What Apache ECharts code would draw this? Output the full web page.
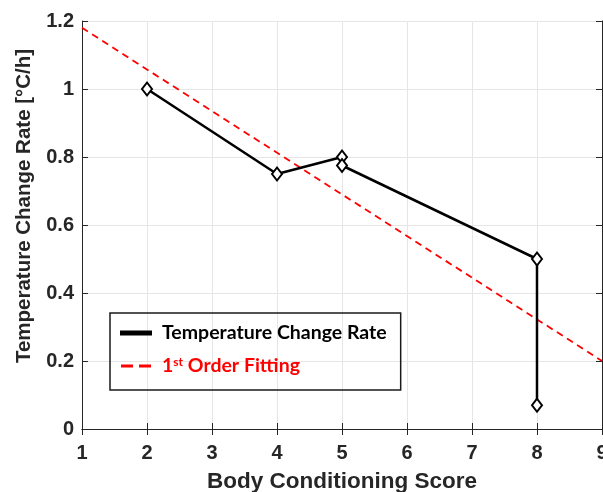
<!DOCTYPE html>
<html><head><meta charset="utf-8">
<script src="https://cdn.jsdelivr.net/npm/echarts@6/dist/echarts.min.js"></script>
<style>html,body{margin:0;padding:0;background:#fff}#c{width:603px;height:492px}</style>
</head><body><div id="c"></div>
<script>
const scoreX = [2, 4, 5, 5, 8, 8];
const rateY = [1.0, 0.75, 0.80, 0.775, 0.50, 0.07];
const fitX = [1, 9];
const fitY = [1.18, 0.20];
const xTicks = [1, 2, 3, 4, 5, 6, 7, 8, 9];
const yTicks = [0, 0.2, 0.4, 0.6, 0.8, 1, 1.2];
const seriesNames = ['Temperature Change Rate', '1st Order Fitting'];
const xName = 'Body Conditioning Score';
const yName = 'Temperature Change Rate [°C/h]';

const tickFont = {fontFamily: 'Liberation Sans, Arial', fontWeight: 'bold', fontSize: 20, color: '#262626'};
const chart = echarts.init(document.getElementById('c'));
const axisLine = {show: true, lineStyle: {color: '#262626', width: 1}};
const split = {show: true, lineStyle: {color: '#e6e6e6', width: 1}};
const lf = 'Lato, Open Sans';
chart.setOption({
  animation: false,
  grid: {left: 82, top: 21, right: 1, bottom: 63, show: false, containLabel: false, outerBoundsMode: 'none'},
  xAxis: [{
    type: 'value', min: xTicks[0], max: xTicks[xTicks.length-1], interval: 1,
    name: xName, nameLocation: 'middle', nameGap: 41,
    nameTextStyle: {fontFamily: 'Liberation Sans, Arial', fontWeight: 'bold', fontSize: 22.5, color: '#262626'},
    axisLine: axisLine, axisTick: {show: true, inside: true, length: 6, lineStyle: {color: '#262626'}},
    axisLabel: Object.assign({margin: 14}, tickFont), splitLine: split
  }, {
    type: 'value', position: 'top', min: xTicks[0], max: xTicks[xTicks.length-1], interval: 1,
    axisLine: axisLine, axisTick: {show: true, inside: true, length: 6, lineStyle: {color: '#262626'}},
    axisLabel: {show: false}, splitLine: {show: false}
  }],
  yAxis: [{
    type: 'value', min: yTicks[0], max: yTicks[yTicks.length-1], interval: 0.2,
    name: yName, nameLocation: 'middle', nameGap: 47, nameRotate: 90,
    nameTextStyle: {fontFamily: 'Liberation Sans, Arial', fontWeight: 'bold', fontSize: 20.5, color: '#262626', padding: [0, 0, 0, 38]},
    axisLine: axisLine, axisTick: {show: true, inside: true, length: 6, lineStyle: {color: '#262626'}},
    axisLabel: Object.assign({margin: 8, formatter: v => String(+v.toFixed(1))}, tickFont), splitLine: split
  }, {
    type: 'value', position: 'right', min: yTicks[0], max: yTicks[yTicks.length-1], interval: 0.2,
    axisLine: axisLine, axisTick: {show: true, inside: true, length: 6, lineStyle: {color: '#262626'}},
    axisLabel: {show: false}, splitLine: {show: false}
  }],
  legend: {
    left: 110, top: 313, orient: 'vertical',
    borderColor: '#1a1a1a', borderWidth: 1.5, borderRadius: 0,
    padding: [10, 14, 14, 10], itemGap: 13, itemWidth: 30, itemHeight: 3,
    textStyle: {fontFamily: lf, fontWeight: 'bold', fontSize: 19.5, color: '#000', padding: [0, 0, 0, 6],
      rich: {
        b: {fontFamily: lf, fontWeight: 'bold', fontSize: 19.5, color: '#ff0000'},
        s: {fontFamily: lf, fontWeight: 'bold', fontSize: 12, color: '#ff0000', verticalAlign: 'top', padding: [0, 0, 8, 0]}
      }},
    formatter: function (n) {
      if (n === seriesNames[1]) return '{b|1}{s|st}{b| Order Fitting}';
      return n;
    },
    data: [
      {name: seriesNames[0], icon: 'path://M0,0h30v3h-30z', itemStyle: {color: '#000'}},
      {name: seriesNames[1], icon: 'path://M0,0h12v3h-12z M18,0h12v3h-12z', itemStyle: {color: '#ff0000'}, textStyle: {color: '#ff0000'}}
    ]
  },
  series: [{
    name: seriesNames[1], type: 'line', data: fitX.map((x, i) => [x, fitY[i]]),
    symbol: 'none', lineStyle: {color: '#ff0000', width: 1.8, type: [7, 5]}, itemStyle: {color: '#ff0000'}, z: 2
  }, {
    name: seriesNames[0], type: 'line', data: scoreX.map((x, i) => [x, rateY[i]]),
    symbol: 'diamond', symbolSize: [10, 13], showSymbol: true,
    lineStyle: {color: '#000', width: 2.5}, itemStyle: {color: '#fff', borderColor: '#000', borderWidth: 2}, z: 3
  }]
});
</script></body></html>
